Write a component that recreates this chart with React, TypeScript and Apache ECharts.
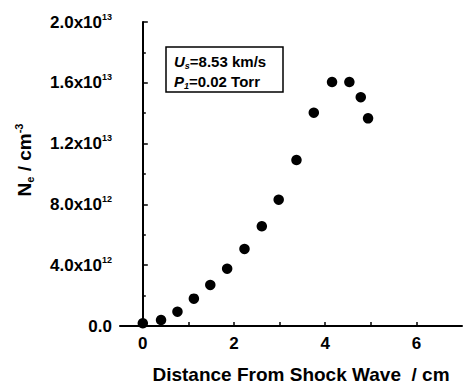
import React, { useEffect, useRef } from "react";
import * as echarts from "echarts";

const distance = [0, 0.4, 0.76, 1.12, 1.48, 1.85, 2.23, 2.61, 2.98, 3.37, 3.75, 4.15, 4.53, 4.78, 4.94];
const density = [0.18e12, 0.39e12, 0.94e12, 1.8e12, 2.7e12, 3.77e12, 5.07e12, 6.56e12, 8.31e12, 1.092e13, 1.403e13, 1.605e13, 1.605e13, 1.505e13, 1.366e13];
const xLabelValues = [0, 2, 4, 6];
const xTickValues = [0, 1, 2, 3, 4, 5, 6];

const FONT = "'Liberation Sans', Arial, sans-serif";

export default function App() {
  const ref = useRef<HTMLDivElement>(null);
  useEffect(() => {
    document.body.style.margin = "0";
    const chart = echarts.init(ref.current!, null, { renderer: "svg" });
    const data = distance.map((d, i) => [d, density[i]]);
    chart.setOption({
      animation: false,
      backgroundColor: "#ffffff",
      grid: { left: 120, right: 1, top: 22, bottom: 62 },
      xAxis: {
        type: "value",
        min: -0.5,
        max: 7,
        splitLine: { show: false },
        axisLine: { show: true, lineStyle: { color: "#000", width: 2 } },
        axisTick: { show: true, inside: true, length: 4, customValues: xTickValues, lineStyle: { color: "#000", width: 1.5 } },
        axisLabel: {
          customValues: xLabelValues,
          margin: 9,
          color: "#000",
          fontSize: 17,
          fontWeight: "bold",
          fontFamily: FONT,
          formatter: (v: number) => String(v),
        },
      },
      yAxis: {
        type: "value",
        min: 0,
        max: 2e13,
        interval: 4e12,
        splitLine: { show: false },
        axisLine: { show: true, lineStyle: { color: "#000", width: 2 } },
        axisTick: { show: true, inside: true, length: 5, lineStyle: { color: "#000", width: 1.5 } },
        minorTick: { show: true, splitNumber: 2, length: 3, lineStyle: { color: "#000", width: 1.5 } },
        axisLabel: {
          margin: 8,
          color: "#000",
          formatter: (v: number) => {
            if (v === 0) return "{m|0.0}";
            const e = Math.floor(Math.log10(v) + 1e-9);
            const m = (v / Math.pow(10, e)).toFixed(1);
            return `{m|${m}x10}{s|${e}}`;
          },
          rich: {
            m: { fontSize: 17, fontWeight: "bold", fontFamily: FONT, color: "#000", lineHeight: 20 },
            s: { fontSize: 9, fontWeight: "bold", fontFamily: FONT, color: "#000", lineHeight: 10, verticalAlign: "top" },
          },
        },
      },
      series: [
        {
          type: "scatter",
          data,
          symbol: "circle",
          symbolSize: 10.5,
          itemStyle: { color: "#000", opacity: 1 },
        },
      ],
      graphic: [
        {
          type: "rect",
          shape: { x: 166, y: 47, width: 117, height: 45 },
          style: { fill: "#fff", stroke: "#000", lineWidth: 1.5 },
        },
        {
          type: "text",
          x: 174,
          y: 61,
          style: {
            text: "{i|U}{b|s}{t|=8.53 km/s}",
            verticalAlign: "middle",
            rich: {
              i: { fontSize: 15, fontWeight: "bold", fontStyle: "italic", fontFamily: FONT, fill: "#000", lineHeight: 18 },
              b: { fontSize: 9, fontWeight: "bold", fontStyle: "italic", fontFamily: FONT, fill: "#000", lineHeight: 10, verticalAlign: "bottom" },
              t: { fontSize: 15, fontWeight: "bold", fontFamily: FONT, fill: "#000", lineHeight: 18 },
            },
          },
        },
        {
          type: "text",
          x: 174,
          y: 81,
          style: {
            text: "{i|P}{b|1}{t|=0.02 Torr}",
            verticalAlign: "middle",
            rich: {
              i: { fontSize: 15, fontWeight: "bold", fontStyle: "italic", fontFamily: FONT, fill: "#000", lineHeight: 18 },
              b: { fontSize: 9, fontWeight: "bold", fontStyle: "italic", fontFamily: FONT, fill: "#000", lineHeight: 10, verticalAlign: "bottom" },
              t: { fontSize: 15, fontWeight: "bold", fontFamily: FONT, fill: "#000", lineHeight: 18 },
            },
          },
        },
        {
          type: "text",
          x: 301,
          y: 374,
          style: {
            text: "Distance From Shock Wave  / cm",
            align: "center",
            verticalAlign: "middle",
            fontSize: 19,
            fontWeight: "bold",
            fontFamily: FONT,
            fill: "#000",
          },
        },
        {
          type: "text",
          x: 24,
          y: 160,
          rotation: Math.PI / 2,
          style: {
            text: "{n|N}{b|e}{t| / cm}{s|-3}",
            align: "center",
            verticalAlign: "middle",
            rich: {
              n: { fontSize: 19, fontWeight: "bold", fontFamily: FONT, fill: "#000", lineHeight: 22 },
              b: { fontSize: 11, fontWeight: "bold", fontFamily: FONT, fill: "#000", lineHeight: 12, verticalAlign: "bottom" },
              t: { fontSize: 19, fontWeight: "bold", fontFamily: FONT, fill: "#000", lineHeight: 22 },
              s: { fontSize: 11, fontWeight: "bold", fontFamily: FONT, fill: "#000", lineHeight: 12, verticalAlign: "top" },
            },
          },
        },
      ],
    });
    return () => chart.dispose();
  }, []);
  return <div ref={ref} style={{ width: 463, height: 388 }} />;
}
